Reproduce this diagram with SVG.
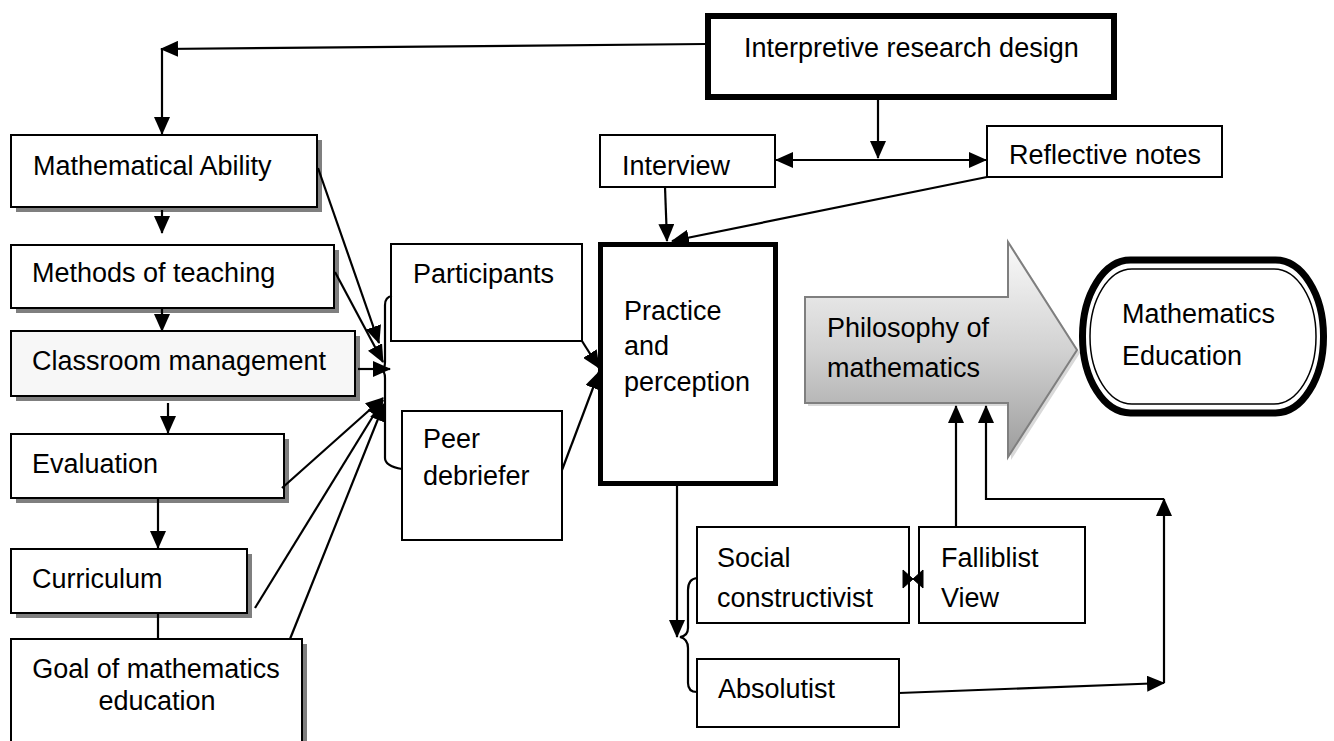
<svg xmlns="http://www.w3.org/2000/svg" width="1334" height="741" viewBox="0 0 1334 741">
<style>
.t{font-family:"Liberation Sans",Arial,sans-serif;font-size:27px;fill:#000}
.box{fill:#fff;stroke:#000;stroke-width:2}
.sh{fill:#7f7f7f}
.ln{fill:none;stroke:#000;stroke-width:2.2}
.ar{marker-end:url(#ah)}
</style>
<defs>
<marker id="ah" markerUnits="userSpaceOnUse" markerWidth="18" markerHeight="16" viewBox="0 0 18 16" refX="17" refY="8" orient="auto-start-reverse">
<path d="M0,0 L18,8 L0,16 z" fill="#000"/>
</marker>
<linearGradient id="pg" x1="0" y1="0" x2="0" y2="1">
<stop offset="0" stop-color="#fafafa"/>
<stop offset="0.5" stop-color="#d2d2d2"/>
<stop offset="1" stop-color="#9c9c9c"/>
</linearGradient>
</defs>
<rect width="1334" height="741" fill="#fff"/>

<g id="interpretive">
<rect x="708" y="16" width="406" height="81" fill="#fff" stroke="#000" stroke-width="6"/>
<text class="t" x="744" y="57">Interpretive research design</text>
</g>

<g id="math-ability">
<rect class="sh" x="16" y="140" width="306" height="72"/>
<rect class="box" x="11" y="135" width="306" height="72"/>
<text class="t" x="33" y="175">Mathematical Ability</text>
</g>

<g id="methods">
<rect class="sh" x="16" y="250" width="323" height="63"/>
<rect class="box" x="11" y="245" width="323" height="63"/>
<text class="t" x="32" y="282">Methods of teaching</text>
</g>

<g id="classroom">
<rect class="sh" x="16" y="336" width="344" height="65"/>
<rect class="box" x="11" y="331" width="344" height="65" style="fill:#f7f7f7"/>
<text class="t" x="32" y="370">Classroom management</text>
</g>

<g id="evaluation">
<rect class="sh" x="16" y="439" width="273" height="64"/>
<rect class="box" x="11" y="434" width="273" height="64"/>
<text class="t" x="32" y="473">Evaluation</text>
</g>

<g id="curriculum">
<rect class="sh" x="16" y="554" width="236" height="64"/>
<rect class="box" x="11" y="549" width="236" height="64"/>
<text class="t" x="32" y="588">Curriculum</text>
</g>

<g id="goal">
<rect class="sh" x="16" y="644" width="291" height="110"/>
<rect class="box" x="11" y="639" width="291" height="110"/>
<text class="t" x="156" y="678" text-anchor="middle">Goal of mathematics</text>
<text class="t" x="157" y="710" text-anchor="middle">education</text>
</g>

<g id="interview">
<rect class="box" x="600" y="135" width="175" height="52"/>
<text class="t" x="622" y="175">Interview</text>
</g>

<g id="reflective">
<rect class="box" x="987" y="126" width="235" height="51"/>
<text class="t" x="1009" y="164">Reflective notes</text>
</g>

<g id="participants">
<rect class="box" x="391" y="244" width="191" height="97"/>
<text class="t" x="413" y="283">Participants</text>
</g>

<g id="peer">
<rect class="box" x="402" y="411" width="160" height="129"/>
<text class="t" x="423" y="448">Peer</text>
<text class="t" x="423" y="485">debriefer</text>
</g>

<g id="practice">
<rect x="600.5" y="244.5" width="175" height="239" fill="#fff" stroke="#000" stroke-width="5"/>
<text class="t" x="624" y="320">Practice</text>
<text class="t" x="624" y="355">and</text>
<text class="t" x="624" y="391">perception</text>
</g>

<g id="philosophy">
<path d="M808,300 L1011,300 L1011,245 L1080,353 L1011,460 L1011,406 L808,406 Z" fill="#c9c9c9" opacity="0.7"/>
<path d="M805,297 L1008,297 L1008,242 L1077,350 L1008,457 L1008,403 L805,403 Z" fill="url(#pg)" stroke="#7f7f7f" stroke-width="2"/>
<text class="t" x="827" y="337">Philosophy of</text>
<text class="t" x="827" y="377">mathematics</text>
</g>

<g id="math-education">
<rect x="1082.5" y="260" width="241" height="153" rx="48" ry="76" fill="#fff" stroke="#000" stroke-width="7"/>
<rect x="1090" y="269" width="226" height="135" rx="42" ry="67" fill="none" stroke="#000" stroke-width="1.5"/>
<text class="t" x="1122" y="323">Mathematics</text>
<text class="t" x="1122" y="365">Education</text>
</g>

<g id="social">
<rect class="box" x="697" y="527" width="212" height="96"/>
<text class="t" x="717" y="567">Social</text>
<text class="t" x="717" y="607">constructivist</text>
</g>

<g id="falliblist">
<rect class="box" x="919" y="527" width="166" height="96"/>
<text class="t" x="941" y="567">Falliblist</text>
<text class="t" x="941" y="607">View</text>
</g>

<g id="absolutist">
<rect class="box" x="697" y="659" width="202" height="68"/>
<text class="t" x="718" y="698">Absolutist</text>
</g>

<g id="connectors">
<path class="ln ar" d="M705,44 L161,49"/>
<path class="ln ar" d="M162,49 L162,134"/>
<path class="ln ar" d="M162,210 L162,233"/>
<path class="ln ar" d="M162,309 L162,331"/>
<path class="ln ar" d="M168,403 L168,433"/>
<path class="ln ar" d="M158,498 L158,548"/>
<path class="ln" d="M158,614 L158,638"/>
<path class="ln ar" d="M318,168 L379,343"/>
<path class="ln ar" d="M335,272 L383,362"/>
<path class="ln ar" d="M358,369 L390,369"/>
<path class="ln ar" d="M282,488 L383,398"/>
<path class="ln ar" d="M255,608 L383,400"/>
<path class="ln ar" d="M290,639 L384,404"/>
<path class="ln" stroke-width="1.5" d="M392,296 Q385,297 385,305 L385,362 Q385,369 381,370 Q385,371 385,378 L385,458 Q385,466 402,469"/>
<path class="ln ar" d="M582,341 L599,368"/>
<path class="ln ar" d="M562,470 L599,372"/>
<path class="ln ar" d="M878,100 L878,158"/>
<path class="ln" style="marker-start:url(#ah);marker-end:url(#ah)" d="M776,160 L986,160"/>
<path class="ln ar" d="M665,187 L667,241"/>
<path class="ln ar" d="M987,177 L672,241"/>
<path class="ln ar" d="M677,486 L677,637"/>
<path class="ln" stroke-width="1.5" d="M697,578 Q688,579 688,590 L688,628 Q688,636 680,637 Q688,639 688,648 L688,683 Q688,692 697,692"/>
<path d="M903,570 L913,579 L903,588 z M923,570 L913,579 L923,588 z" fill="#000" stroke="#000" stroke-width="1"/>
<path class="ln ar" d="M956,527 L956,406"/>
<path class="ln ar" d="M899,693 L1164,683"/>
<path class="ln ar" d="M1164,683 L1164,499"/>
<path class="ln ar" d="M1164,499 L986,499 L986,406"/>
</g>
</svg>
